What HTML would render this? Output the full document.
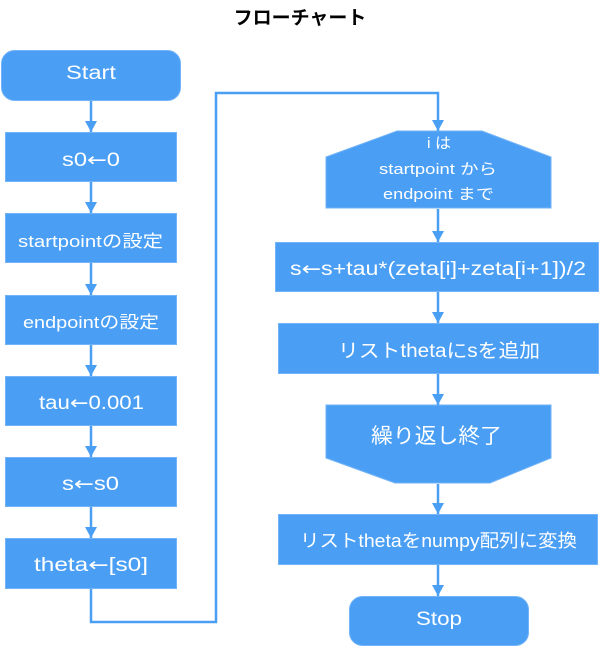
<!DOCTYPE html>
<html><head><meta charset="utf-8"><style>
html,body{margin:0;padding:0;background:#fff;}
svg{display:block;}
text{font-family:"Liberation Sans","Noto Sans CJK JP",sans-serif;fill:#fff;}
.ar{font-family:"DejaVu Sans",sans-serif;}
</style></head><body>
<svg width="600" height="647" viewBox="0 0 600 647" xmlns="http://www.w3.org/2000/svg">
<defs><marker id="a" markerWidth="14" markerHeight="14" refX="11" refY="6" orient="auto" markerUnits="userSpaceOnUse"><path d="M0,0 L11,6 L0,12 Z" fill="#4a9ff5"/></marker></defs>
<text x="300" y="24" text-anchor="middle" font-size="19" font-weight="bold" style="fill:#000">フローチャート</text>
<g fill="#4a9ff5" stroke="#73b3f7" stroke-width="1">
<rect x="1.5" y="50.5" width="179" height="50" rx="13"/>
<rect x="5.5" y="132.5" width="171" height="49"/>
<rect x="5.5" y="213.5" width="171" height="49"/>
<rect x="5.5" y="295.5" width="171" height="49"/>
<rect x="5.5" y="376.5" width="171" height="49"/>
<rect x="5.5" y="457.5" width="171" height="49"/>
<rect x="5.5" y="538.5" width="171" height="50"/>
<path d="M397,131 L482,131 L551,157 L551,208 L326,208 L326,157 Z"/>
<rect x="275.5" y="242.5" width="323" height="49"/>
<rect x="278.5" y="323.5" width="320" height="50"/>
<path d="M326,405 L551,405 L551,458 L490,483 L395,483 L326,458 Z"/>
<rect x="278.5" y="514.5" width="319" height="50"/>
<rect x="349.5" y="596.5" width="179" height="49" rx="13"/>
</g>
<g stroke="#4a9ff5" stroke-width="2.5" fill="none">
<line x1="91" y1="101" x2="91" y2="132" marker-end="url(#a)"/>
<line x1="91" y1="182" x2="91" y2="213" marker-end="url(#a)"/>
<line x1="91" y1="263" x2="91" y2="295" marker-end="url(#a)"/>
<line x1="91" y1="345" x2="91" y2="376" marker-end="url(#a)"/>
<line x1="91" y1="426" x2="91" y2="457" marker-end="url(#a)"/>
<line x1="91" y1="507" x2="91" y2="538" marker-end="url(#a)"/>
<polyline points="91,589 91,622 216,622 216,93 438,93 438,131" marker-end="url(#a)"/>
<line x1="438" y1="209" x2="438" y2="242" marker-end="url(#a)"/>
<line x1="438" y1="292" x2="438" y2="323" marker-end="url(#a)"/>
<line x1="438" y1="374" x2="438" y2="405" marker-end="url(#a)"/>
<line x1="438" y1="484" x2="438" y2="514" marker-end="url(#a)"/>
<line x1="438" y1="565" x2="438" y2="596" marker-end="url(#a)"/>
</g>
<g font-size="19" lengthAdjust="spacingAndGlyphs">
<text x="66" y="79" textLength="50" lengthAdjust="spacingAndGlyphs">Start</text>
<text x="62" y="166" textLength="58" lengthAdjust="spacingAndGlyphs">s0<tspan class="ar">←</tspan>0</text>
<text x="18" y="247" font-size="17" textLength="145" lengthAdjust="spacingAndGlyphs">startpointの設定</text>
<text x="23" y="328" font-size="17" textLength="136" lengthAdjust="spacingAndGlyphs">endpointの設定</text>
<text x="39" y="409" textLength="105" lengthAdjust="spacingAndGlyphs">tau<tspan class="ar">←</tspan>0.001</text>
<text x="62" y="490" textLength="57" lengthAdjust="spacingAndGlyphs">s<tspan class="ar">←</tspan>s0</text>
<text x="34" y="571" textLength="114" lengthAdjust="spacingAndGlyphs">theta<tspan class="ar">←</tspan>[s0]</text>
<text x="427" y="148" font-size="15" textLength="24" lengthAdjust="spacingAndGlyphs">i は</text>
<text x="379" y="174" font-size="15" textLength="118" lengthAdjust="spacingAndGlyphs">startpoint から</text>
<text x="383" y="199" font-size="15" textLength="111" lengthAdjust="spacingAndGlyphs">endpoint まで</text>
<text x="290" y="275" textLength="296" lengthAdjust="spacingAndGlyphs">s<tspan class="ar">←</tspan>s+tau*(zeta[i]+zeta[i+1])/2</text>
<text x="338" y="357" textLength="202" lengthAdjust="spacingAndGlyphs">リストthetaにsを追加</text>
<text x="371" y="443" font-size="21" textLength="131" lengthAdjust="spacingAndGlyphs">繰り返し終了</text>
<text x="300" y="547" font-size="18" textLength="277" lengthAdjust="spacingAndGlyphs">リストthetaをnumpy配列に変換</text>
<text x="416" y="625" textLength="46" lengthAdjust="spacingAndGlyphs">Stop</text>
</g>
</svg>
</body></html>
